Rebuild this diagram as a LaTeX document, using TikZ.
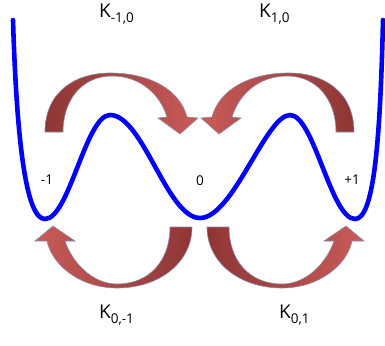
\documentclass[tikz,border=0pt]{standalone}
\usepackage{fontspec}
\setmainfont{Open Sans}
\definecolor{welldark}{HTML}{8E3634}
\definecolor{welllight}{HTML}{C95B58}
\definecolor{ribbonedge}{HTML}{8A8AA8}
\newcommand{\rate}[1]{{\fontsize{19}{22}\selectfont K\raisebox{-5pt}{\fontsize{13.5}{14}\selectfont #1}}}
% one curved arrow over a barrier, and one under a well
\newcommand{\toparrow}{(45,132) .. controls (45,92) and (75,73) .. (110,73)
    .. controls (150,73) and (180,90) .. (187,117) -- (198,118) -- (180,134)
    -- (158,118) -- (167,117) .. controls (160,94) and (140,76) .. (112,76)
    .. controls (82,76) and (63,100) .. (63,132) -- cycle}
\newcommand{\botarrow}{(170,227) -- (192,227) .. controls (192,262) and (160,288) .. (117,288)
    .. controls (80,288) and (52,265) .. (47,241) -- (35,241) -- (53,226)
    -- (75,241) -- (65,241) .. controls (72,262) and (92,284) .. (117,284)
    .. controls (150,284) and (170,260) .. (170,227) -- cycle}
\begin{document}
\begin{tikzpicture}[x=1pt, y=-1pt,
    ribbon/.style={draw=ribbonedge, line width=0.6pt},
    well/.style={blue, line width=4.6pt, line cap=round},
    state/.style={font=\fontsize{13.5}{15}\selectfont}]
    \useasboundingbox (0,0) rectangle (385,345);

    % transition arrows
    \shade[ribbon, left color=welldark, right color=welllight] \toparrow;
    \begin{scope}[shift={(399,0)}, xscale=-1]
        \shade[ribbon, left color=welllight, right color=welldark] \toparrow;
    \end{scope}
    \shade[ribbon, left color=welllight, right color=welldark] \botarrow;
    \begin{scope}[shift={(399,0)}, xscale=-1]
        \shade[ribbon, left color=welldark, right color=welllight] \botarrow;
    \end{scope}

    % energy landscape
    \draw[well] (13,20) .. controls (17,150) and (27,219) .. (45,219)
        .. controls (69,219) and (86,115) .. (110,115)
        .. controls (143,115) and (167,218) .. (200,218)
        .. controls (233,218) and (266,115) .. (290,115)
        .. controls (314,115) and (331,219) .. (355,219)
        .. controls (373,219) and (380,150) .. (383,20);

    \node[state] (sm) at (47,180) {-1};
    \node[state] (s0) at (200,181) {0};
    \node[state] (sp) at (352,180) {+1};

    \node[anchor=base west, inner sep=0pt] (kml) at (99,18) {\rate{-1,0}};
    \node[anchor=base west, inner sep=0pt] (kpl) at (259,18) {\rate{1,0}};
    \node[anchor=base west, inner sep=0pt] (klm) at (99,318) {\rate{0,-1}};
    \node[anchor=base west, inner sep=0pt] (klp) at (279,318) {\rate{0,1}};
\end{tikzpicture}
\end{document}
